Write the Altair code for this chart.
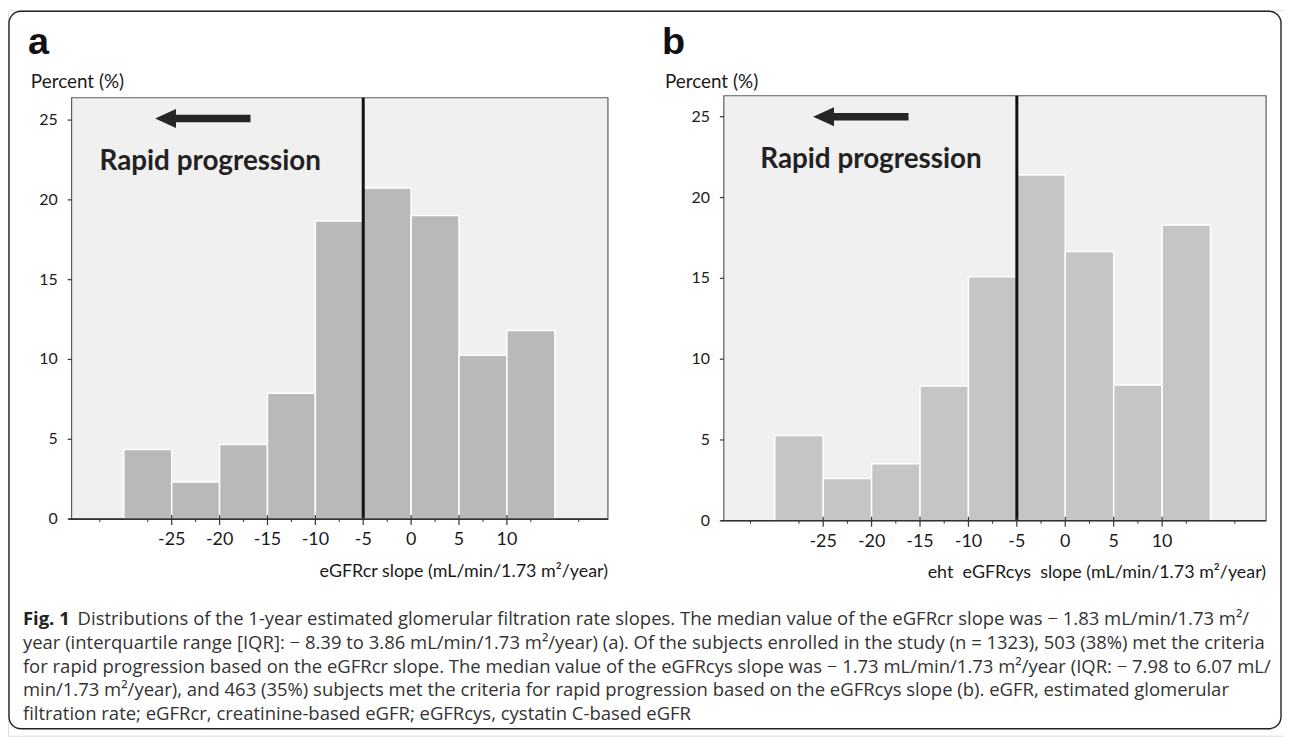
import altair as alt
import pandas as pd

# ---------------- data ----------------
bin_edges = [-30, -25, -20, -15, -10, -5, 0, 5, 10, 15]
pct_cr = [4.36, 2.32, 4.67, 7.88, 18.67, 20.74, 19.02, 10.27, 11.82]
pct_cys = [5.27, 2.62, 3.53, 8.34, 15.10, 21.40, 16.66, 8.40, 18.30]
x_ticks = [-25, -20, -15, -10, -5, 0, 5, 10]
x_minor = [-32.5, -27.5, -22.5, -17.5, -12.5, -7.5, -2.5, 2.5, 7.5, 12.5, 17.5]
y_ticks = [0, 5, 10, 15, 20, 25]
cutoff = -5
panel_labels = ["a", "b"]
y_title = "Percent (%)"
x_titles = [
    "eGFRcr slope (mL/min/1.73 m\u00b2/year)",
    "eht\u00a0 eGFRcys\u00a0 slope (mL/min/1.73 m\u00b2/year)",
]
annotation = "Rapid progression"
caption_head = "Fig. 1"
caption_lines = [
    "Distributions of the 1-year estimated glomerular filtration rate slopes. The median value of the eGFRcr slope was \u2212 1.83 mL/min/1.73 m\u00b2/",
    "year (interquartile range [IQR]: \u2212 8.39 to 3.86 mL/min/1.73 m\u00b2/year) (a). Of the subjects enrolled in the study (n = 1323), 503 (38%) met the criteria",
    "for rapid progression based on the eGFRcr slope. The median value of the eGFRcys slope was \u2212 1.73 mL/min/1.73 m\u00b2/year (IQR: \u2212 7.98 to 6.07 mL/",
    "min/1.73 m\u00b2/year), and 463 (35%) subjects met the criteria for rapid progression based on the eGFRcys slope (b). eGFR, estimated glomerular",
    "filtration rate; eGFRcr, creatinine-based eGFR; eGFRcys, cystatin C-based eGFR",
]

W, H = 1284, 730
FONT = "Lato"
CAP_FONT = "Open Sans"
CAP_SIZE = 18.6
TXT = "#1a1a1a"
one = pd.DataFrame({"k": [0]})

ARROW = ("M -1 0 L -0.5625 -0.2 L -0.5625 -0.077 L 1 -0.077 L 1 0.077 "
         "L -0.5625 0.077 L -0.5625 0.2 Z")


def panel(pcts, bar_color, xdom, xrng, ydom, yrng, label, label_x, xtitle,
          arrow_xy, text_xy):
    xs = alt.Scale(domain=xdom, range=xrng, nice=False, zero=False)
    ys = alt.Scale(domain=ydom, range=yrng, nice=False, zero=False)
    df = pd.DataFrame({"start": bin_edges[:-1], "end": bin_edges[1:], "pct": pcts})
    xt = pd.DataFrame({"t": x_ticks, "lab": [str(v) for v in x_ticks]})
    yt = pd.DataFrame({"t": y_ticks, "lab": [str(v) for v in y_ticks]})
    base_y = yrng[0]
    left_x = xrng[0]

    def X(v):
        return alt.XDatum(v, type="quantitative", scale=xs, axis=None)

    def Y(v):
        return alt.YDatum(v, type="quantitative", scale=ys, axis=None)

    frame = alt.Chart(one).mark_rect(fill="#f0f0f0", stroke="#5c5c5c", strokeWidth=1.2).encode(
        x=X(xdom[0]), x2=alt.X2Datum(xdom[1]), y=Y(ydom[0]), y2=alt.Y2Datum(ydom[1]),
    )
    bars = alt.Chart(df).mark_bar(color=bar_color, stroke="white", strokeWidth=1.5).encode(
        x=alt.X("start:Q", scale=xs, axis=None),
        x2="end:Q",
        y=alt.Y("pct:Q", scale=ys, axis=None),
        y2=alt.Y2Datum(0),
    )
    vline = alt.Chart(one).mark_rule(color="#111111", strokeWidth=3).encode(
        x=X(cutoff), y=Y(ydom[0]), y2=alt.Y2Datum(ydom[1]),
    )
    baseline = alt.Chart(one).mark_rule(color="#333", strokeWidth=1.6).encode(
        x=X(xdom[0] - 0.3), x2=alt.X2Datum(xdom[1]), y=Y(0),
    )
    minor = alt.Chart(pd.DataFrame({"m": x_minor})).mark_rule(color="#333", strokeWidth=1).encode(
        x=alt.X("m:Q", scale=xs, axis=None),
        y=alt.value(base_y),
        y2=alt.value(base_y + 3),
    )
    xtick = alt.Chart(xt).mark_rule(color="#333", strokeWidth=1.2).encode(
        x=alt.X("t:Q", scale=xs, axis=None),
        y=alt.value(base_y - 4),
        y2=alt.value(base_y + 6),
    )
    xlab = alt.Chart(xt).mark_text(font=FONT, fontSize=18, align="center",
                                   baseline="middle", color=TXT).encode(
        x=alt.X("t:Q", scale=xs, axis=None),
        y=alt.value(base_y + 21),
        text="lab:N",
    )
    ytick = alt.Chart(yt).mark_rule(color="#333", strokeWidth=1.2).encode(
        x=alt.value(left_x - 4), x2=alt.value(left_x),
        y=alt.Y("t:Q", scale=ys, axis=None),
    )
    ylab = alt.Chart(yt).mark_text(font=FONT, fontSize=16, align="right",
                                   baseline="middle", color=TXT).encode(
        x=alt.value(left_x - 14),
        y=alt.Y("t:Q", scale=ys, axis=None),
        text="lab:N",
    )
    xtitle_m = alt.Chart(one).mark_text(text=xtitle, font=FONT, fontSize=18, align="right",
                                        baseline="middle", color=TXT).encode(
        x=alt.value(xrng[1]), y=alt.value(base_y + 53))
    arrow = alt.Chart(one).mark_point(shape=ARROW, filled=True, color="#262626",
                                      opacity=1, size=96 * 96, strokeWidth=0).encode(
        x=X(arrow_xy[0]), y=Y(arrow_xy[1]),
    )
    txt = alt.Chart(one).mark_text(text=annotation, font=FONT, fontWeight="bold",
                                   fontSize=28, align="left", baseline="middle",
                                   color="#222").encode(
        x=X(text_xy[0]), y=Y(text_xy[1]),
    )
    lab = alt.Chart(one).mark_text(text=label, font="Liberation Sans", fontWeight="bold",
                                   fontSize=38, align="left", baseline="alphabetic",
                                   color="#111").encode(
        x=alt.value(label_x), y=alt.value(44))
    ytl = alt.Chart(one).mark_text(text=y_title, font=FONT, fontSize=19, align="left",
                                   baseline="middle", color=TXT).encode(
        x=alt.value(label_x + 3), y=alt.value(72))
    return alt.layer(frame, bars, vline, baseline, minor, xtick, xlab, ytick, ylab,
                     xtitle_m, arrow, txt, lab, ytl)


panel_a = panel(pct_cr, "#b9b9b9", [-35.45, 20.55], [64, 603.7], [0, 26.4], [512, 88],
                panel_labels[0], 20, x_titles[0], (-21.75, 25.1), (-32.54, 22.4))
panel_b = panel(pct_cys, "#c5c5c5", [-35.26, 20.74], [720.3, 1266], [0, 26.3], [513.7, 86],
                panel_labels[1], 658, x_titles[1], (-21.11, 25.0), (-31.5, 22.35))

cap_df = pd.DataFrame({"i": list(range(len(caption_lines))), "line": caption_lines})
cap_df["x"] = [70] + [15] * (len(caption_lines) - 1)
caption = alt.Chart(cap_df).mark_text(font=CAP_FONT, fontSize=CAP_SIZE, align="left",
                                      baseline="middle", color="#333").encode(
    x=alt.X("x:Q", scale=alt.Scale(domain=[0, W], range=[0, W]), axis=None),
    y=alt.Y("i:Q", scale=alt.Scale(domain=[0, 4], range=[613, 708]), axis=None),
    text="line:N",
)
cap_head = alt.Chart(one).mark_text(text=caption_head, font=CAP_FONT, fontWeight="bold",
                                    fontSize=CAP_SIZE, align="left", baseline="middle",
                                    color="#222").encode(x=alt.value(15), y=alt.value(613))
border = alt.Chart(one).mark_rect(filled=False, stroke="#222", strokeWidth=1.4,
                                  cornerRadius=12).encode(
    x=alt.value(1), x2=alt.value(1281), y=alt.value(1), y2=alt.value(723))

chart = alt.layer(panel_a, panel_b, caption, cap_head, border).resolve_scale(
    x="independent", y="independent"
).properties(
    width=W, height=H, padding=0, autosize=alt.AutoSizeParams(type="none"),
    background="white",
).configure_view(stroke=None).configure(font=FONT)

chart.save("out.html", embed_options={"renderer": "svg", "actions": False})
